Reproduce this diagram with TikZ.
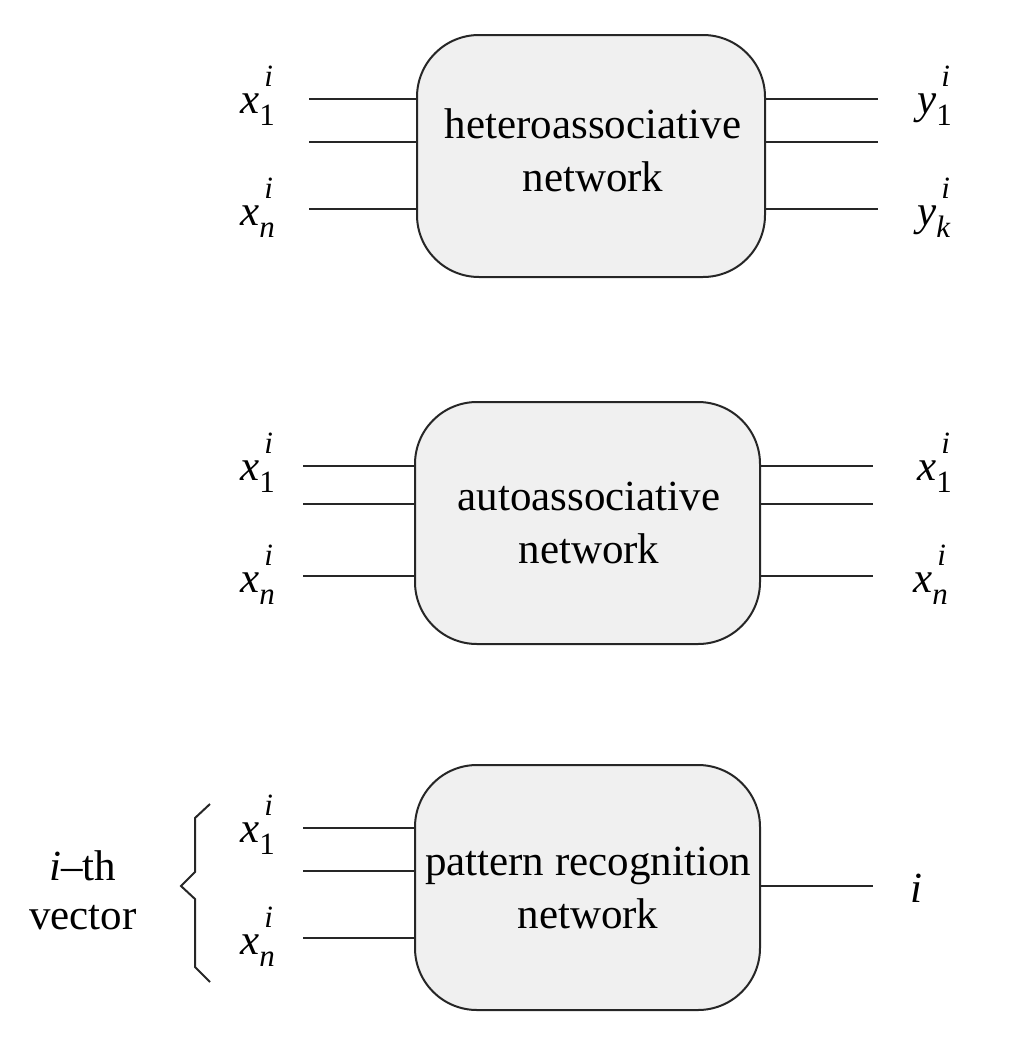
\documentclass[tikz,border=0pt]{standalone}
\usepackage{fontspec}
\setmainfont{Liberation Serif}
\newcommand{\vlab}[3]{\textit{#1}\rlap{\hspace{0.12em}\raisebox{0.62em}{\fontsize{31}{31}\selectfont\textit{#3}}}\raisebox{-0.3em}{\fontsize{31}{31}\selectfont #2}}
\begin{document}
\begin{tikzpicture}[x=1pt,y=-1pt,
  netbox/.style={draw=black!85,line width=2pt,fill=black!6,rounded corners=62pt,inner sep=0pt},
  boxtext/.style={align=center,inner sep=0pt,font=\fontsize{43}{53}\selectfont},
  wire/.style={draw=black!85,line width=2pt},
  lab/.style={anchor=base west,inner sep=0pt,font=\fontsize{43}{53}\selectfont}]
\useasboundingbox (0,0) rectangle (1030,1044);
% box 1
\node[netbox,minimum width=348pt,minimum height=242pt] (b1) at (591,156) {};
\node[boxtext] (b1t) at (593,150) {heteroassociative\\network};
\coordinate (a1) at (309,99);
\coordinate (a2) at (309,142);
\coordinate (a3) at (309,209);
\coordinate (c1) at (878,99);
\coordinate (c2) at (878,142);
\coordinate (c3) at (878,209);
\foreach \p in {a1,a2,a3} \draw[wire] (\p) -- (\p -| b1.west);
\foreach \p in {c1,c2,c3} \draw[wire] (\p -| b1.east) -- (\p);
\node[lab] (t1) at (240,113) {\vlab{x}{1}{i}};
\node[lab] (t2) at (240,225) {\vlab{x}{\textit{n}}{i}};
\node[lab] (t3) at (917,113) {\vlab{y}{1}{i}};
\node[lab] (t4) at (917,225) {\vlab{y}{\textit{k}}{i}};
% box 2
\node[netbox,minimum width=345pt,minimum height=242pt] (b2) at (587.5,523) {};
\node[boxtext] (b2t) at (589,523) {autoassociative\\network};
\coordinate (d1) at (303,466);
\coordinate (d2) at (303,504);
\coordinate (d3) at (303,576);
\coordinate (e1) at (873,466);
\coordinate (e2) at (873,504);
\coordinate (e3) at (873,576);
\foreach \p in {d1,d2,d3} \draw[wire] (\p) -- (\p -| b2.west);
\foreach \p in {e1,e2,e3} \draw[wire] (\p -| b2.east) -- (\p);
\node[lab] (u1) at (240,480) {\vlab{x}{1}{i}};
\node[lab] (u2) at (240,592) {\vlab{x}{\textit{n}}{i}};
\node[lab] (u3) at (917,480) {\vlab{x}{1}{i}};
\node[lab] (u4) at (913,592) {\vlab{x}{\textit{n}}{i}};
% box 3
\node[netbox,minimum width=345pt,minimum height=245pt] (b3) at (587.5,887.5) {};
\node[boxtext] (b3t) at (588,888) {pattern recognition\\network};
\coordinate (f1) at (303,828);
\coordinate (f2) at (303,871);
\coordinate (f3) at (303,938);
\coordinate (g1) at (873,886);
\foreach \p in {f1,f2,f3} \draw[wire] (\p) -- (\p -| b3.west);
\draw[wire] (g1 -| b3.east) -- (g1);
\node[lab] (v1) at (240,842) {\vlab{x}{1}{i}};
\node[lab] (v2) at (240,954) {\vlab{x}{\textit{n}}{i}};
\node[lab] (v3) at (910,902) {\textit{i}};
% brace and label
\draw[wire,line join=miter] (210,804) -- (195,818) -- (195,872) -- (181,886) -- (195,899) -- (195,967) -- (210,982);
\node[align=center,inner sep=0pt,font=\fontsize{43}{49}\selectfont] (vec) at (83,890) {\textit{i}--th\\vector};
\end{tikzpicture}
\end{document}
